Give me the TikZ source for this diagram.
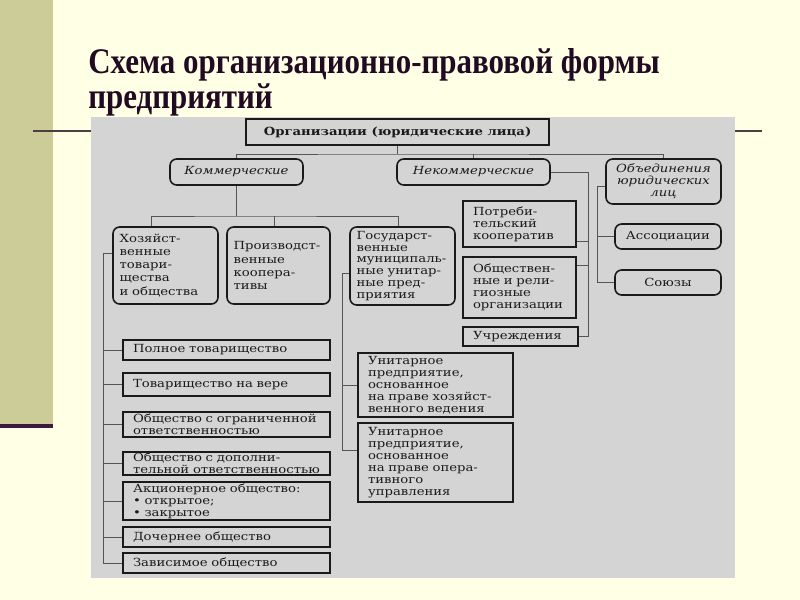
\documentclass[tikz,border=0pt]{standalone}
\usepackage{fontspec}
\setmainfont{Liberation Serif}
\newfontfamily\titlefont[FakeStretch=0.86]{Liberation Serif}
\newfontfamily\schemefont[FakeStretch=1.18]{DejaVu Serif}
\usetikzlibrary{positioning, calc}
\definecolor{slidebg}{HTML}{FFFFE5}
\definecolor{slidebar}{HTML}{CCCC99}
\definecolor{plum}{HTML}{3D1A3D}
\definecolor{rulecol}{HTML}{4F3D45}
\definecolor{scan}{HTML}{D4D4D4}
\definecolor{ink}{HTML}{1A1A1A}
\definecolor{wirecol}{HTML}{555555}
\definecolor{titleink}{HTML}{220A22}

\begin{document}
\begin{tikzpicture}[x=0.75pt, y=-0.75pt,
  every node/.style={font=\schemefont\fontsize{8.4}{8.9}\selectfont, text=ink},
  title/.style={font=\titlefont\bfseries\fontsize{27}{28}\selectfont, text=titleink,
                inner sep=0pt, anchor=base west},
  rbox/.style={draw=ink, line width=1.2pt, rounded corners=5pt,
               inner ysep=1pt, align=center},
  hbox/.style={rbox, align=left, inner xsep=5pt},
  tallbox/.style={hbox, font=\schemefont\fontsize{8.4}{9.8}\selectfont},
  sbox/.style={draw=ink, line width=1.2pt, inner xsep=7.5pt,
               inner ysep=1pt, align=left},
  ital/.style={font=\schemefont\itshape\fontsize{8.4}{8.9}\selectfont},
  wire/.style={draw=wirecol, line width=0.6pt}
]
\useasboundingbox (0,0) rectangle (800,600);
% slide
\fill[slidebg] (0,0) rectangle (800,600);
\fill[slidebar] (0,0) rectangle (53,424);
\fill[plum] (0,424) rectangle (53,428);
\draw[rulecol, line width=1.6pt] (33,131) -- (762,131);
\fill[scan] (91,117) rectangle (735,578);

\node[title] (ttl1) at (88,73) {Схема организационно-правовой формы};
\node[title] (ttl2) at (88,108) {предприятий};

% top levels
\node[sbox, line width=1.5pt, minimum width=227.25pt, minimum height=19.5pt,
      font=\schemefont\bfseries\fontsize{8.4}{8.9}\selectfont] (org) at (397.5,132)
      {Организации (юридические лица)};
\node[rbox, ital, minimum width=99.75pt, minimum height=19.5pt] (kom) at (236.5,172) {Коммерческие};
\node[rbox, ital, minimum width=114.75pt, minimum height=19.5pt] (nekom) at (473.5,172) {Некоммерческие};
\node[rbox, ital, minimum width=86.25pt, minimum height=33.75pt] (obed) at (663.5,181.5)
      {Объединения\\юридических\\лиц};

% commercial
\node[tallbox, text width=68.75pt, minimum height=57.75pt] (hoz) at (165.5,265.5)
      {Хозяйст-\\венные\\товари-\\щества\\и общества};
\node[tallbox, text width=67.25pt, minimum height=57.75pt] (proizv) at (278.5,265.5)
      {Производст-\\венные\\коопера-\\тивы};
\node[hbox, text width=68.75pt, minimum height=58.5pt] (gos) at (402.5,266)
      {Государст-\\венные\\муниципаль-\\ные унитар-\\ные пред-\\приятия};

% non-commercial
\node[sbox, text width=69.75pt, minimum height=34.5pt] (potreb) at (519.5,224)
      {Потреби-\\тельский\\кооператив};
\node[sbox, text width=69.75pt, minimum height=45.75pt] (obsch) at (519.5,287.5)
      {Обществен-\\ные и рели-\\гиозные\\организации};
\node[sbox, text width=71.25pt, minimum height=14.25pt] (uchr) at (520.5,336.5) {Учреждения};

% unions
\node[rbox, minimum width=79.5pt, minimum height=18.75pt] (assoc) at (668,236.5) {Ассоциации};
\node[rbox, minimum width=79.5pt, minimum height=18.75pt] (soyuz) at (668,282.5) {Союзы};

% partnerships and companies
\node[sbox, text width=140.25pt, minimum height=15pt] (poln) at (226.5,350) {Полное товарищество};
\node[sbox, text width=140.25pt, minimum height=17.25pt] (tov) at (226.5,384.5) {Товарищество на вере};
\node[sbox, text width=140.25pt, minimum height=18.75pt] (ooo) at (226.5,424.5)
      {Общество с ограниченной\\ответственностью};
\node[sbox, text width=140.25pt, minimum height=17.25pt] (odo) at (226.5,463.5)
      {Общество с дополни-\\тельной ответственностью};
\node[sbox, text width=140.25pt, minimum height=28.5pt] (ao) at (226.5,501)
      {Акционерное общество:\\• открытое;\\• закрытое};
\node[sbox, text width=140.25pt, minimum height=15pt] (doch) at (226.5,537) {Дочернее общество};
\node[sbox, text width=140.25pt, minimum height=15pt] (zav) at (226.5,563) {Зависимое общество};

% unitary enterprises
\node[sbox, text width=101.25pt, minimum height=48pt] (un1) at (435.5,385)
      {Унитарное\\предприятие,\\основанное\\на праве хозяйст-\\венного ведения};
\node[sbox, text width=101.25pt, minimum height=59.25pt] (un2) at (435.5,462.5)
      {Унитарное\\предприятие,\\основанное\\на праве опера-\\тивного\\управления};

% connectors
\coordinate (jt) at (397.5,154);
\draw[wire] (org.south) -- (jt);
\draw[wire] (kom.north) |- (jt) -| (obed.north);
\draw[wire] (nekom.north) -- (nekom.north |- jt);

\coordinate (jk) at (236.5,216);
\draw[wire] (kom.south) -- (jk);
\draw[wire] ($(hoz.north)+(-14.5,0)$) |- (jk) -| ($(gos.north)+(-4.5,0)$);
\draw[wire] ($(proizv.north)+(-4.5,0)$) coordinate (pn) -- (pn |- jk);

\coordinate (sp) at (103,253);
\draw[wire] ($(hoz.west)+(0,-12.5)$) -- (sp) |- (zav.west);
\foreach \n in {poln,tov,ooo,odo,ao,doch}
  \draw[wire] (sp |- \n.west) -- (\n.west);

\coordinate (sg) at (342,273);
\draw[wire] (gos.west |- sg) -- (sg) |- ($(un2.west)+(0,-12.5)$);
\draw[wire] (sg |- un1.west) -- (un1.west);

\coordinate (sn) at (588,172);
\draw[wire] (nekom.east) -- (sn) |- (uchr.east);
\draw[wire] ($(potreb.east)+(0,17)$) coordinate (pe) -- (pe -| sn);
\draw[wire] ($(obsch.east)+(0,-22.5)$) coordinate (oe) -- (oe -| sn);

\coordinate (so) at (597,186);
\draw[wire] ($(obed.west)+(0,4.5)$) -- (so) |- (soyuz.west);
\draw[wire] (so |- assoc.west) -- (assoc.west);
\end{tikzpicture}
\end{document}
